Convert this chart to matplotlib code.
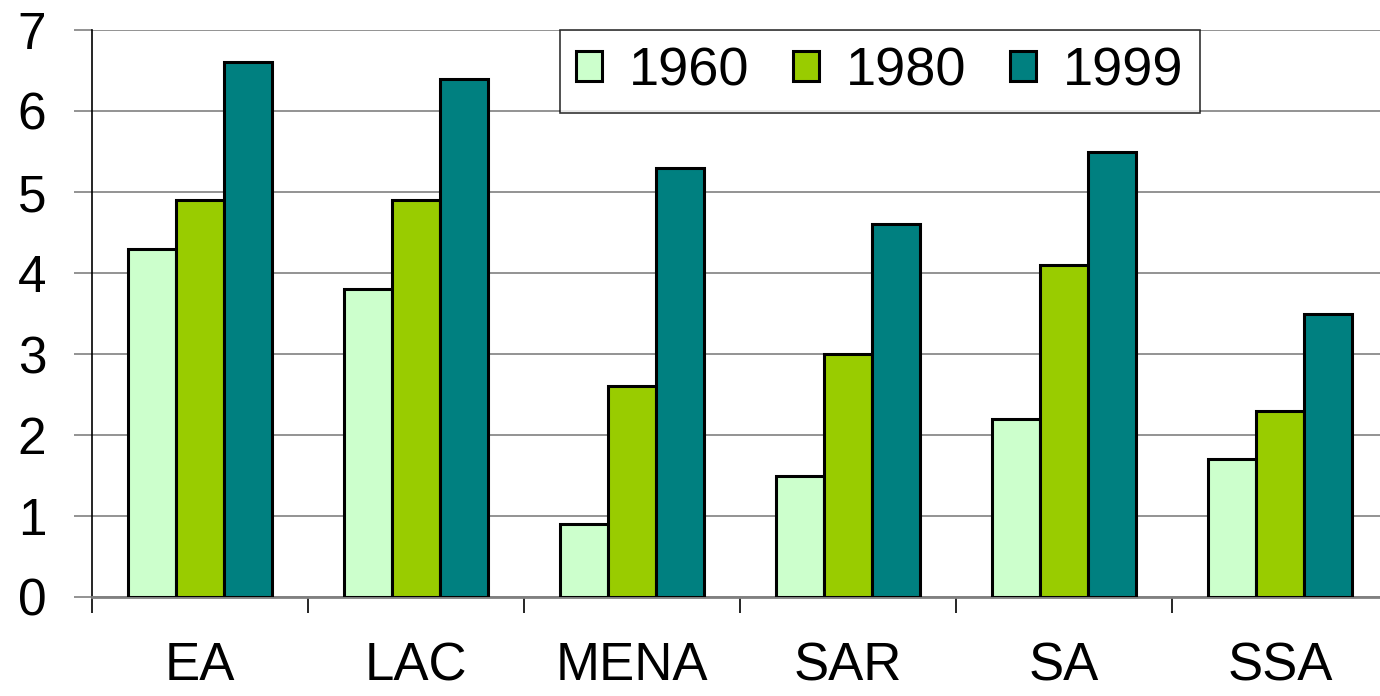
import numpy as np
import matplotlib
matplotlib.use('Agg')
import matplotlib.pyplot as plt

regions = ['EA', 'LAC', 'MENA', 'SAR', 'SA', 'SSA']
years = ['1960', '1980', '1999']
v1960 = [4.3, 3.8, 0.9, 1.5, 2.2, 1.7]
v1980 = [4.9, 4.9, 2.6, 3.0, 4.1, 2.3]
v1999 = [6.6, 6.4, 5.3, 4.6, 5.5, 3.5]
colors = ['#CCFFCC', '#99CC00', '#008080']

plt.rcParams['font.family'] = ['Liberation Sans', 'DejaVu Sans']

fig = plt.figure(figsize=(13.8, 6.96), dpi=100)
ax = fig.add_axes([92 / 1380, 99 / 696, 1296 / 1380, 567 / 696])

x = np.arange(len(regions))
w = 0.223
for i, (vals, lab) in enumerate(zip([v1960, v1980, v1999], years)):
    ax.bar(x + (i - 1) * w, vals, w, color=colors[i], edgecolor='black',
           linewidth=2.2, label=lab, zorder=3)

ax.set_xlim(-0.5, len(regions) - 0.5)
ax.set_ylim(0, 7)
ax.set_yticks(range(8))
ax.yaxis.grid(True, color='#808080', linewidth=1.2, zorder=0)
ax.tick_params(axis='y', labelsize=37, length=13, width=1.2, color='#808080', pad=20)

ax.set_xticks(x)
ax.set_xticklabels(regions)
ax.tick_params(axis='x', which='major', length=0, labelsize=38, pad=32)
ax.set_xticks(np.arange(-0.5, len(regions), 1), minor=True)
ax.tick_params(axis='x', which='minor', length=11.5, width=1.2, color='black', direction='out')

for s in ['top', 'right']:
    ax.spines[s].set_visible(False)
ax.spines['left'].set_color('black')
ax.spines['left'].set_linewidth(1.2)
ax.spines['bottom'].set_color('#808080')
ax.spines['bottom'].set_linewidth(2)

leg = fig.legend(loc='upper left', bbox_to_anchor=(560 / 1380, 1 - 30 / 696),
                 ncol=3, fontsize=39, frameon=True, fancybox=False,
                 handlelength=0.48, handleheight=0.48, handletextpad=0.5,
                 columnspacing=0.8, borderpad=0.3, borderaxespad=0)
leg.get_frame().set_edgecolor('black')
leg.get_frame().set_linewidth(1.2)

fig.savefig('out.png', dpi=100)
